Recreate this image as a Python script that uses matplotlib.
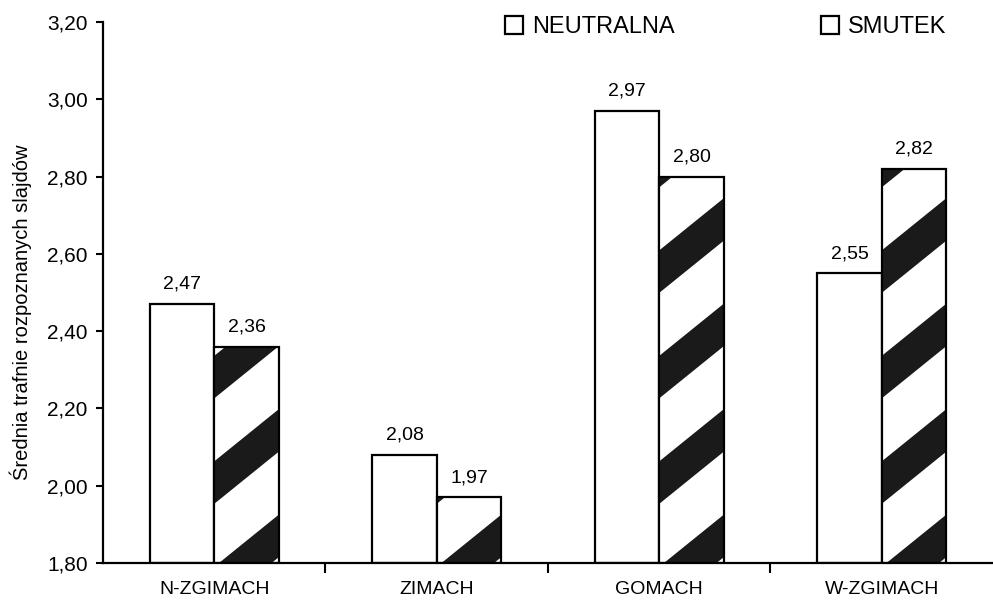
import numpy as np
import matplotlib.pyplot as plt
from matplotlib.patches import Patch, Polygon

plt.rcParams['font.family'] = ['Liberation Sans', 'DejaVu Sans']

categories = ['N-ZGIMACH', 'ZIMACH', 'GOMACH', 'W-ZGIMACH']
neutralna  = [2.47, 2.08, 2.97, 2.55]
smutek     = [2.36, 1.97, 2.80, 2.82]
yticks     = [1.80, 2.00, 2.20, 2.40, 2.60, 2.80, 3.00, 3.20]

def pl(v):
    return f'{v:.2f}'.replace('.', ',')

fig = plt.figure(figsize=(9.93, 6.06), dpi=100)
ax = fig.add_axes([0.1037, 0.071, 0.8963, 0.8927])

x = np.arange(len(categories))
w = 0.29
ymin = 1.8
b1 = ax.bar(x - w/2, np.array(neutralna) - ymin, w, bottom=ymin, color='white',
            edgecolor='black', lw=1.6, zorder=2)
b2 = ax.bar(x + w/2, np.array(smutek) - ymin, w, bottom=ymin, color='white',
            edgecolor='none', zorder=2)

# diagonal stripes inside the SMUTEK bars (clipped to each bar)
period, thick, rise = 0.273, 0.11, 0.135
for r in b2:
    x0, wd = r.get_x(), r.get_width()
    top = r.get_y() + r.get_height()
    base = ymin - 0.12
    while base < top:
        poly = Polygon([(x0, base), (x0 + wd, base + rise),
                        (x0 + wd, base + rise + thick), (x0, base + thick)],
                       closed=True, color='#1a1a1a', lw=0, zorder=2.5)
        ax.add_patch(poly)
        poly.set_clip_path(r)
        base += period
ax.bar(x + w/2, np.array(smutek) - ymin, w, bottom=ymin, fill=False,
       edgecolor='black', lw=1.6, zorder=3)

for bars, vals in ((b1, neutralna), (b2, smutek)):
    for r, v in zip(bars, vals):
        ax.annotate(pl(v), (r.get_x() + r.get_width()/2, v), xytext=(0, 8),
                    textcoords='offset points', ha='center', va='bottom', fontsize=14)

ax.set_ylim(1.8, 3.2)
ax.set_xlim(-0.5, 3.5)
ax.set_yticks(yticks)
ax.set_yticklabels([pl(v) for v in yticks], fontsize=15)
ax.set_xticks(x)
ax.set_xticklabels(categories, fontsize=14)
ax.set_xticks(x[:-1] + 0.5, minor=True)
ax.tick_params(axis='x', which='major', length=0, pad=13)
ax.tick_params(axis='x', which='minor', length=7, width=1.5)
ax.tick_params(axis='y', length=5, width=1.5, pad=6)
for s in ('top', 'right'):
    ax.spines[s].set_visible(False)
for s in ('left', 'bottom'):
    ax.spines[s].set_linewidth(1.6)

ax.set_ylabel('Średnia trafnie rozpoznanych slajdów', fontsize=14.5)
ax.yaxis.set_label_coords(-0.08, 0.464)

handles = [Patch(facecolor='white', edgecolor='black', lw=1.6),
           Patch(facecolor='white', edgecolor='black', lw=1.6)]
fig.legend(handles, ['NEUTRALNA', 'SMUTEK'], loc='center left',
           bbox_to_anchor=(0.487, 0.955), ncol=2, frameon=False, fontsize=17,
           handlelength=0.75, handleheight=0.75, handletextpad=0.4, columnspacing=6.2)

fig.savefig('out.png', dpi=100)
